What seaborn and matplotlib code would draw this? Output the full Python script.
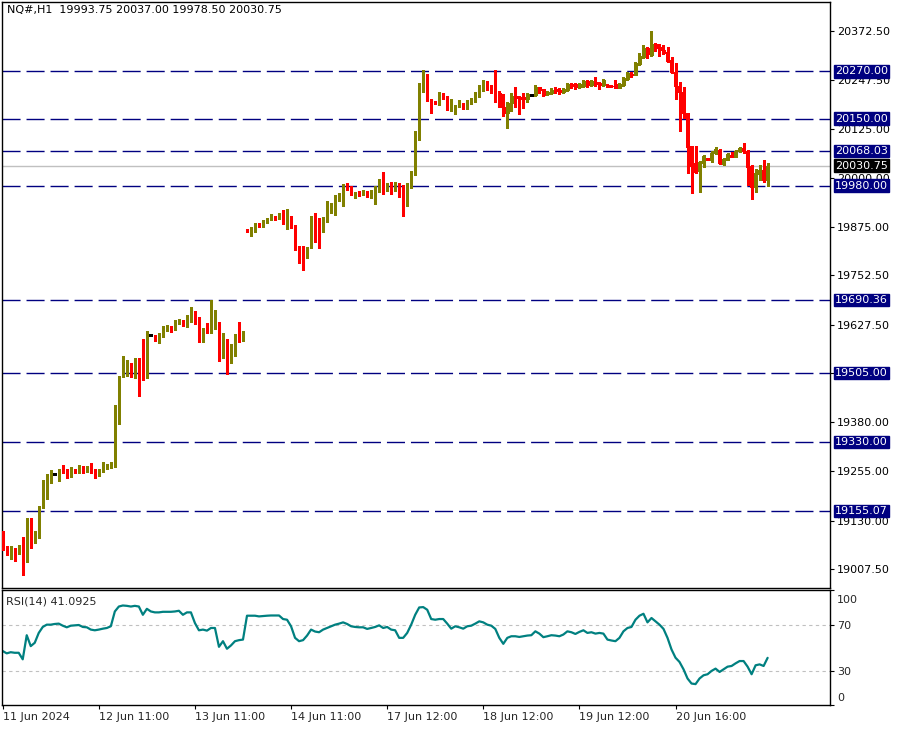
import numpy as np
import pandas as pd
import seaborn as sns
import matplotlib.pyplot as plt
from matplotlib.transforms import ScaledTranslation

# ---- data (NQ#, H1) ----
opens = [19096, 19064, 19046, 19060, 19051, 19055, 19028, 19137, 19077, 19096,
         19164, 19212, 19241, 19249, 19248, 19262, 19259, 19244, 19260, 19254,
         19269, 19254, 19269, 19257, 19250, 19257, 19267, 19267, 19267, 19422,
         19495, 19504, 19518, 19510, 19520, 19520, 19492, 19601, 19601, 19589,
         19599, 19614, 19623, 19616, 19633, 19639, 19625, 19650, 19658, 19645,
         19597, 19616, 19609, 19631, 19632, 19556, 19591, 19544, 19572, 19599,
         19591, 19869, 19863, 19873, 19883, 19876, 19889, 19895, 19903, 19897,
         19908, 19890, 19900, 19880, 19819, 19802, 19800, 19824, 19896, 19893,
         19876, 19891, 19918, 19927, 19948, 19954, 19981, 19973, 19962, 19965,
         19961, 19965, 19952, 19963, 19967, 19984, 19969, 19984, 19967, 19981,
         19961, 19956, 19979, 20011, 20096, 20233, 20238, 20199, 20193, 20187,
         20212, 20206, 20185, 20164, 20181, 20185, 20178, 20191, 20196, 20206,
         20227, 20241, 20231, 20225, 20214, 20180, 20164, 20189, 20208, 20204,
         20206, 20199, 20210, 20209, 20230, 20225, 20212, 20216, 20225, 20223,
         20217, 20223, 20238, 20237, 20230, 20233, 20246, 20236, 20244, 20241,
         20236, 20236, 20234, 20237, 20229, 20236, 20251, 20263, 20261, 20289,
         20306, 20330, 20312, 20340, 20333, 20324, 20318, 20299, 20269, 20233,
         20218, 20164, 20081, 20037, 20018, 20038, 20050, 20045, 20062, 20071,
         20034, 20045, 20058, 20054, 20068, 20075, 20069, 20030, 19976, 20009,
         20020, 19993.75]
highs = [19104, 19066, 19067, 19061, 19068, 19089, 19138, 19137, 19104, 19168,
         19233, 19248, 19259, 19251, 19262, 19271, 19262, 19266, 19262, 19271,
         19270, 19269, 19276, 19261, 19262, 19278, 19274, 19280, 19424, 19496,
         19548, 19539, 19529, 19542, 19542, 19591, 19612, 19604, 19602, 19606,
         19625, 19627, 19625, 19639, 19642, 19640, 19652, 19673, 19663, 19648,
         19618, 19632, 19690, 19665, 19633, 19607, 19592, 19579, 19604, 19635,
         19612, 19870, 19876, 19885, 19885, 19893, 19899, 19907, 19904, 19910,
         19918, 19921, 19903, 19881, 19828, 19828, 19825, 19903, 19912, 19897,
         19901, 19940, 19937, 19956, 19962, 19984, 19988, 19978, 19965, 19967,
         19969, 19967, 19969, 19978, 19997, 20016, 19986, 19989, 19989, 19986,
         19981, 19986, 20017, 20120, 20240, 20274, 20263, 20200, 20194, 20218,
         20214, 20208, 20199, 20185, 20197, 20189, 20197, 20203, 20218, 20235,
         20248, 20246, 20235, 20274, 20221, 20213, 20193, 20214, 20231, 20208,
         20214, 20214, 20212, 20235, 20231, 20226, 20221, 20227, 20230, 20227,
         20229, 20240, 20241, 20240, 20240, 20247, 20247, 20248, 20255, 20244,
         20250, 20238, 20236, 20247, 20240, 20257, 20269, 20269, 20295, 20316,
         20337, 20333, 20373, 20341, 20340, 20337, 20333, 20307, 20291, 20242,
         20231, 20165, 20082, 20081, 20043, 20058, 20051, 20069, 20079, 20073,
         20051, 20062, 20065, 20071, 20079, 20088, 20071, 20033, 20022, 20033,
         20045, 20037.00]
lows = [19056, 19044, 19034, 19028, 19045, 18993, 19026, 19061, 19073, 19087,
        19162, 19186, 19225, 19246, 19232, 19250, 19238, 19241, 19250, 19252,
        19252, 19253, 19250, 19239, 19244, 19254, 19261, 19263, 19266, 19375,
        19495, 19498, 19494, 19491, 19446, 19487, 19491, 19599, 19587, 19582,
        19597, 19611, 19610, 19614, 19628, 19625, 19622, 19635, 19628, 19584,
        19584, 19606, 19606, 19616, 19536, 19544, 19502, 19531, 19548, 19584,
        19586, 19863, 19853, 19863, 19875, 19874, 19886, 19893, 19893, 19895,
        19884, 19869, 19872, 19817, 19783, 19765, 19796, 19823, 19836, 19823,
        19863, 19889, 19910, 19906, 19940, 19929, 19969, 19956, 19948, 19955,
        19956, 19951, 19948, 19934, 19963, 19959, 19967, 19959, 19966, 19952,
        19904, 19929, 19975, 20007, 20095, 20218, 20196, 20165, 20188, 20185,
        20199, 20172, 20170, 20162, 20179, 20175, 20175, 20187, 20193, 20204,
        20221, 20223, 20214, 20193, 20179, 20157, 20127, 20170, 20180, 20161,
        20176, 20193, 20208, 20208, 20214, 20208, 20210, 20212, 20216, 20212,
        20214, 20220, 20227, 20225, 20227, 20231, 20231, 20233, 20233, 20225,
        20233, 20230, 20231, 20227, 20227, 20233, 20248, 20255, 20260, 20286,
        20303, 20303, 20309, 20322, 20309, 20313, 20293, 20265, 20200, 20119,
        20151, 20011, 19961, 20013, 19965, 20028, 20044, 20041, 20060, 20035,
        20033, 20044, 20052, 20052, 20066, 20064, 19983, 19946, 19965, 19994,
        19990, 19978.50]
closes = [19064, 19049, 19060, 19051, 19058, 19029, 19134, 19077, 19101, 19166,
          19213, 19244, 19249, 19249, 19261, 19257, 19244, 19257, 19253, 19269,
          19254, 19267, 19254, 19250, 19259, 19270, 19271, 19273, 19424, 19495,
          19506, 19518, 19510, 19521, 19518, 19491, 19611, 19601, 19589, 19601,
          19616, 19621, 19616, 19637, 19639, 19627, 19650, 19658, 19635, 19597,
          19616, 19609, 19632, 19632, 19556, 19589, 19544, 19572, 19599, 19591,
          19609, 19867, 19873, 19880, 19876, 19890, 19896, 19904, 19897, 19908,
          19890, 19903, 19876, 19819, 19802, 19797, 19824, 19901, 19891, 19876,
          19893, 19918, 19927, 19950, 19959, 19981, 19972, 19961, 19963, 19959,
          19962, 19954, 19965, 19969, 19984, 19969, 19982, 19969, 19982, 19956,
          19954, 19980, 20015, 20098, 20237, 20241, 20199, 20189, 20189, 20208,
          20206, 20185, 20193, 20182, 20189, 20178, 20193, 20200, 20208, 20229,
          20241, 20229, 20223, 20214, 20180, 20164, 20191, 20208, 20203, 20199,
          20199, 20212, 20210, 20231, 20223, 20210, 20218, 20223, 20221, 20218,
          20225, 20238, 20233, 20231, 20238, 20246, 20236, 20246, 20237, 20236,
          20247, 20231, 20232, 20229, 20238, 20254, 20265, 20262, 20292, 20309,
          20330, 20313, 20340, 20330, 20324, 20317, 20297, 20268, 20234, 20218,
          20164, 20079, 20031, 20016, 20039, 20055, 20045, 20064, 20072, 20037,
          20048, 20060, 20054, 20068, 20076, 20068, 20028, 19976, 20011, 20020,
          19994, 20030.75]

rsi_vals = [47, 45, 46, 45.5, 45.5, 39.8, 60.8, 51.3, 54.2, 62.8,
            68, 70, 70, 70.6, 70.9, 69.1, 67.7, 69.1, 69.4, 69.7,
            68, 67.7, 65.7, 65.1, 65.7, 66.5, 67.1, 68.6, 81.5, 85.8,
            86.7, 86.4, 85.8, 86.4, 85.8, 78.6, 83.8, 81.5, 80.7, 80.7,
            81.2, 81.2, 81.2, 81.5, 82.1, 78.6, 80.7, 80.7, 71.4, 65.1,
            65.7, 64.8, 67.1, 67.1, 50.7, 55.6, 49, 51.9, 55.6, 56.5,
            57, 77.8, 77.8, 77.8, 77.2, 77.5, 77.8, 78, 78, 78,
            74.9, 74.3, 68.6, 58.5, 55.6, 56.5, 60.5, 65.7, 64, 63.4,
            65.7, 67.1, 68.6, 70, 70.9, 72, 70.6, 68.6, 68, 67.7,
            67.7, 66.3, 67.1, 68, 69.4, 67.1, 68, 65.7, 65.1, 58.5,
            58.5, 62.8, 70, 78.6, 85, 85.3, 83, 74.9, 74.3, 74.9,
            74.9, 70.9, 66.5, 68.6, 67.7, 66.5, 68.6, 69.1, 70.9, 72.9,
            72, 70, 69.1, 66.3, 58.5, 53.3, 58.5, 59.9, 59.9, 59.3,
            59.9, 60.5, 60.8, 64.2, 62.2, 59.1, 59.9, 60.8, 60.5, 59.9,
            61.4, 64.2, 63.4, 61.9, 63.7, 65.1, 62.8, 63.4, 62.2, 62.8,
            62.2, 57, 56.2, 55.6, 58.5, 64.2, 67.1, 68, 74.3, 77.8,
            79.5, 72, 75.8, 72.9, 70, 66.3, 58.5, 48.4, 41.2, 37.5,
            31.1, 23.1, 18.7, 18.2, 23.1, 25.9, 26.8, 29.7, 31.7, 28.8,
            31.1, 33.4, 34, 36.3, 38.3, 38.3, 33.4, 26.8, 34.6, 35.4,
            34, 41.09]

date_ticks = [0, 24, 48, 72, 96, 120, 144, 168]
date_labels = ["11 Jun 2024", "12 Jun 11:00", "13 Jun 11:00", "14 Jun 11:00",
               "17 Jun 12:00", "18 Jun 12:00", "19 Jun 12:00", "20 Jun 16:00"]
price_ticks = [20372.50, 20247.50, 20125.00, 20000.00, 19875.00, 19752.50,
               19627.50, 19505.00, 19380.00, 19255.00, 19130.00, 19007.50]
levels = [20270.00, 20150.00, 20068.03, 19980.00, 19690.36, 19505.00, 19330.00, 19155.07]
last_price = 20030.75
rsi_ticks = [100, 70, 30, 0]

sns.set_style("white")
plt.rcParams['font.family'] = ['DejaVu Sans']
plt.rcParams['font.size'] = 8

df = pd.DataFrame({"open": opens, "high": highs, "low": lows, "close": closes, "rsi": rsi_vals})
df["idx"] = np.arange(len(df))

fig = plt.figure(figsize=(9.01, 7.29), dpi=100)
ax = fig.add_axes([0.00222, 0.19342, 0.91898, 0.80384])
ax2 = fig.add_axes([0.00222, 0.03292, 0.91898, 0.15775])

UP, DN = "#808000", "#ff0000"
up = df.close > df.open
flat = df.close == df.open
cols = np.where(up, UP, np.where(flat, "#000000", DN))

# candles
ax.vlines(df.idx, df.low, df.high, colors=cols, linewidth=0.8, antialiased=False, zorder=3)
body_lo = df[["open", "close"]].min(axis=1)
body_h = (df.close - df.open).abs()
nf = ~flat
ax.bar(df.idx[nf], body_h[nf], bottom=body_lo[nf], width=0.6, color=cols[nf], edgecolor=cols[nf],
       linewidth=0.6, antialiased=False, zorder=4)
ax.hlines(df.open[flat], df.idx[flat] - 0.4, df.idx[flat] + 0.4, colors="black", lw=0.8,
          antialiased=False, zorder=4)

# horizontal levels + price boxes
for lv in levels:
    ax.axhline(lv, color="#000080", lw=1, dashes=(13, 4.3), zorder=2)
    ax.annotate(f"{lv:.2f}", xy=(1, lv), xycoords=("axes fraction", "data"), xytext=(3.6, 0),
                textcoords="offset points", ha="left", va="center", color="white", fontsize=8,
                annotation_clip=False, zorder=10,
                bbox=dict(boxstyle="square,pad=0.12", fc="#000080", ec="#000080"))
ax.axhline(last_price, color="#c0c0c0", lw=1, zorder=1)
ax.annotate(f"{last_price:.2f}", xy=(1, last_price), xycoords=("axes fraction", "data"), xytext=(3.6, 0),
            textcoords="offset points", ha="left", va="center", color="white", fontsize=8,
            annotation_clip=False, zorder=10,
            bbox=dict(boxstyle="square,pad=0.12", fc="black", ec="black"))

ax.set_xlim(-0.175, 206.575)
ax.set_ylim(18959.3, 20446.1)
ax.set_xticks([])
ax.yaxis.tick_right()
ax.set_yticks(price_ticks)
# the 19505 tick label sits exactly under the 19505.00 level box
ax.set_yticklabels([f"{v:.2f}" if v not in levels else "" for v in price_ticks])
ax.tick_params(axis="y", right=True, left=False, length=3, width=0.8, color="black",
               direction="out", pad=2, labelsize=8, labelcolor="black")
ax.text(0.006, 0.986, "NQ#,H1  19993.75 20037.00 19978.50 20030.75", transform=ax.transAxes,
        ha="left", va="center", fontsize=8, color="black")

# RSI panel
sns.lineplot(data=df, x="idx", y="rsi", ax=ax2, color="#008080", lw=1.6)
for lv in (70, 30):
    ax2.axhline(lv, color="#c0c0c0", lw=0.8, dashes=(3, 3), zorder=1)
ax2.set_xlim(-0.175, 206.575)
ax2.set_ylim(0.9, 100.2)
ax2.yaxis.tick_right()
ax2.set_yticks(rsi_ticks)
ax2.set_yticklabels([str(v) for v in rsi_ticks])
ax2.tick_params(axis="y", right=True, left=False, length=3, width=0.8, color="black",
                direction="out", pad=2, labelsize=8)
ax2.set_xticks(date_ticks)
ax2.set_xticklabels(date_labels, ha="left")
ax2.tick_params(axis="x", bottom=True, length=3, width=0.8, color="black", direction="out",
                pad=2, labelsize=8)
ax2.set_xlabel("")
ax2.set_ylabel("")
ax2.text(0.005, 0.9, "RSI(14) 41.0925", transform=ax2.transAxes, ha="left", va="center", fontsize=8)

# nudge the 100 / 0 labels inside the panel
lbls = ax2.get_yticklabels()
lbls[0].set_transform(lbls[0].get_transform() + ScaledTranslation(0, -0.09, fig.dpi_scale_trans))
lbls[-1].set_transform(lbls[-1].get_transform() + ScaledTranslation(0, 0.08, fig.dpi_scale_trans))

for a in (ax, ax2):
    for s in a.spines.values():
        s.set_color("black")
        s.set_linewidth(1)

fig.savefig("out.png", dpi=100, facecolor="white")
